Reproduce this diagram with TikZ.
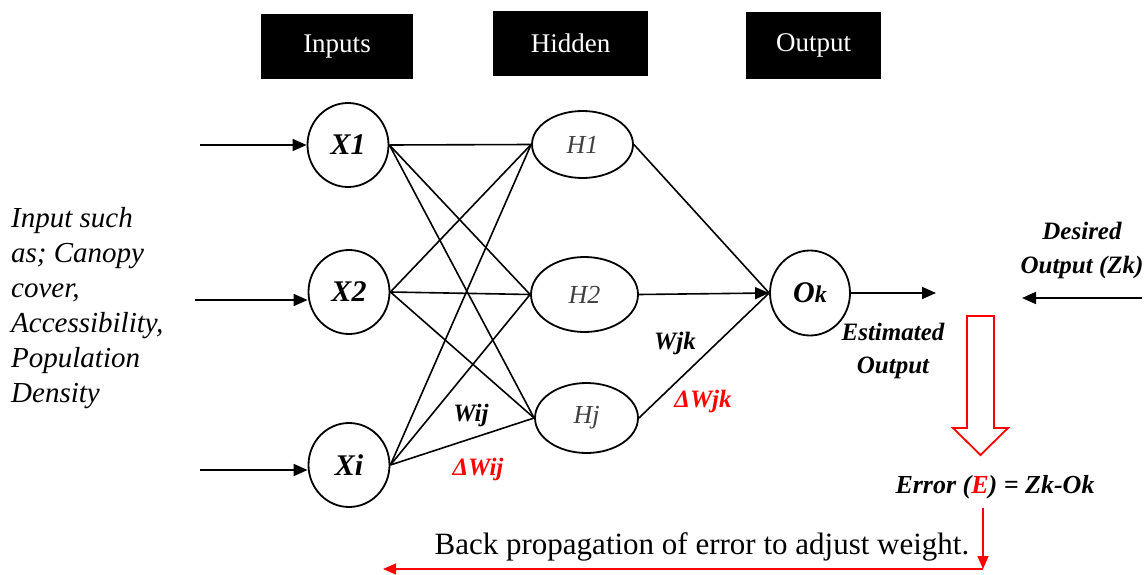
\documentclass[tikz,border=0pt]{standalone}
\usepackage{fontspec}
\setmainfont{Liberation Serif}
\usetikzlibrary{arrows.meta,shapes.geometric}
\begin{document}
\begin{tikzpicture}[x=1pt,y=-1pt,
  every node/.style={inner sep=0pt},
  lbl/.style={fill=black,text=white,font=\fontsize{27}{30}\selectfont},
  unit/.style={draw,ellipse,line width=1.8pt},
  link/.style={line width=1.6pt},
  tip/.style={-{Triangle[length=14pt,width=12pt]}},
  rtip/.style={-{Triangle[length=13pt,width=11pt]}},
  wt/.style={font=\fontsize{25}{28}\selectfont\bfseries\itshape},
  xl/.style={font=\fontsize{30}{32}\selectfont\bfseries\itshape},
  hl/.style={font=\fontsize{26}{28}\selectfont\itshape,text=black!75},
  ]
\useasboundingbox (0,0) rectangle (1148,575);

% header boxes
\node[lbl,minimum width=152pt,minimum height=65pt] (binp) at (337,46.5) {Inputs};
\node[lbl,minimum width=155pt,minimum height=65pt] (bhid) at (570.5,43.5) {Hidden};
\node[lbl,minimum width=135pt,minimum height=67pt] (bout) at (813.5,45.5) {Output};

% input nodes
\node[unit,minimum width=81pt,minimum height=84pt,xl] (X1) at (348,145) {X1};
\node[unit,minimum width=81pt,minimum height=84pt,xl] (X2) at (349,292) {X2};
\node[unit,minimum width=81pt,minimum height=84pt,xl] (Xi) at (349,465) {Xi};

% hidden nodes
\node[unit,minimum width=101pt,minimum height=67pt,hl] (H1) at (582.5,144.5) {H1};
\node[unit,minimum width=107pt,minimum height=75pt,hl] (H2) at (584.5,294.5) {H2};
\node[unit,minimum width=103pt,minimum height=70pt,hl] (Hj) at (586.5,418) {Hj};

% output node
\node[unit,minimum width=80pt,minimum height=85pt] (Ok) at (810,293)
  {{\fontsize{30}{32}\selectfont\bfseries\itshape O}{\fontsize{24}{26}\selectfont\bfseries\itshape k}};

% input arrows
\coordinate (in1) at (200,145);
\coordinate (in2) at (195,300);
\coordinate (in3) at (200,470);
\draw[link,tip] (in1) -- (in1 -| X1.west);
\draw[link,tip] (in2) -- (in2 -| X2.west);
\draw[link,tip] (in3) -- (in3 -| Xi.west);

% input -> hidden
\foreach \a in {X1,X2,Xi}{
  \foreach \b in {H1,H2,Hj}{
    \draw[link] (\a.east) -- (\b.west);
  }
}

% hidden -> output
\draw[link] (H1.east) -- (Ok.west);
\draw[link,tip] (H2.east) -- (Ok.west);
\draw[link] (Hj.east) -- (Ok.west);

% estimated output arrow
\coordinate (est) at (936,293);
\draw[link,tip] (Ok.east) -- (est);

% desired output arrow
\coordinate (des) at (1142,298);
\coordinate (desend) at (1022,298);
\draw[link,tip] (des) -- (desend);

% left text
\node[anchor=north west,align=left,font=\fontsize{29}{35}\selectfont\itshape] (intext) at (11,207)
  {Input such\\as; Canopy\\cover,\\Accessibility,\\Population\\Density};

% weights
\node[wt] (wij) at (471,415) {Wij};
\node[wt,text=red] (dwij) at (478,469) {ΔWij};
\node[wt] (wjk) at (675,343) {Wjk};
\node[wt,text=red] (dwjk) at (703,401) {ΔWjk};

% output labels
\node[align=center,font=\fontsize{25}{33}\selectfont\bfseries\itshape] (estlbl) at (893,351) {Estimated\\Output};
\node[align=center,font=\fontsize{25}{34}\selectfont\bfseries\itshape] (deslbl) at (1082,250) {Desired\\Output (Zk)};

% hollow red arrow
\draw[red,line width=1.8pt,line join=miter] (967,316) -- (994,316) -- (994,428) -- (1008,428)
  -- (980.5,455) -- (953,428) -- (967,428) -- cycle;

% error
\node[font=\fontsize{26}{28}\selectfont\bfseries\itshape] (err) at (995,487) {Error ({\color{red}E}) = Zk-Ok};

% back propagation
\coordinate (bptop) at (983,508);
\coordinate (bp) at (983,569);
\coordinate (bpend) at (383,569);
\draw[red,line width=1.5pt,rtip] (bptop) -- (bp);
\draw[red,line width=1.5pt,rtip] (bp) -- (bpend);
\node[font=\fontsize{31}{34}\selectfont] (bptext) at (702,547) {Back propagation of error to adjust weight.};
\end{tikzpicture}
\end{document}
